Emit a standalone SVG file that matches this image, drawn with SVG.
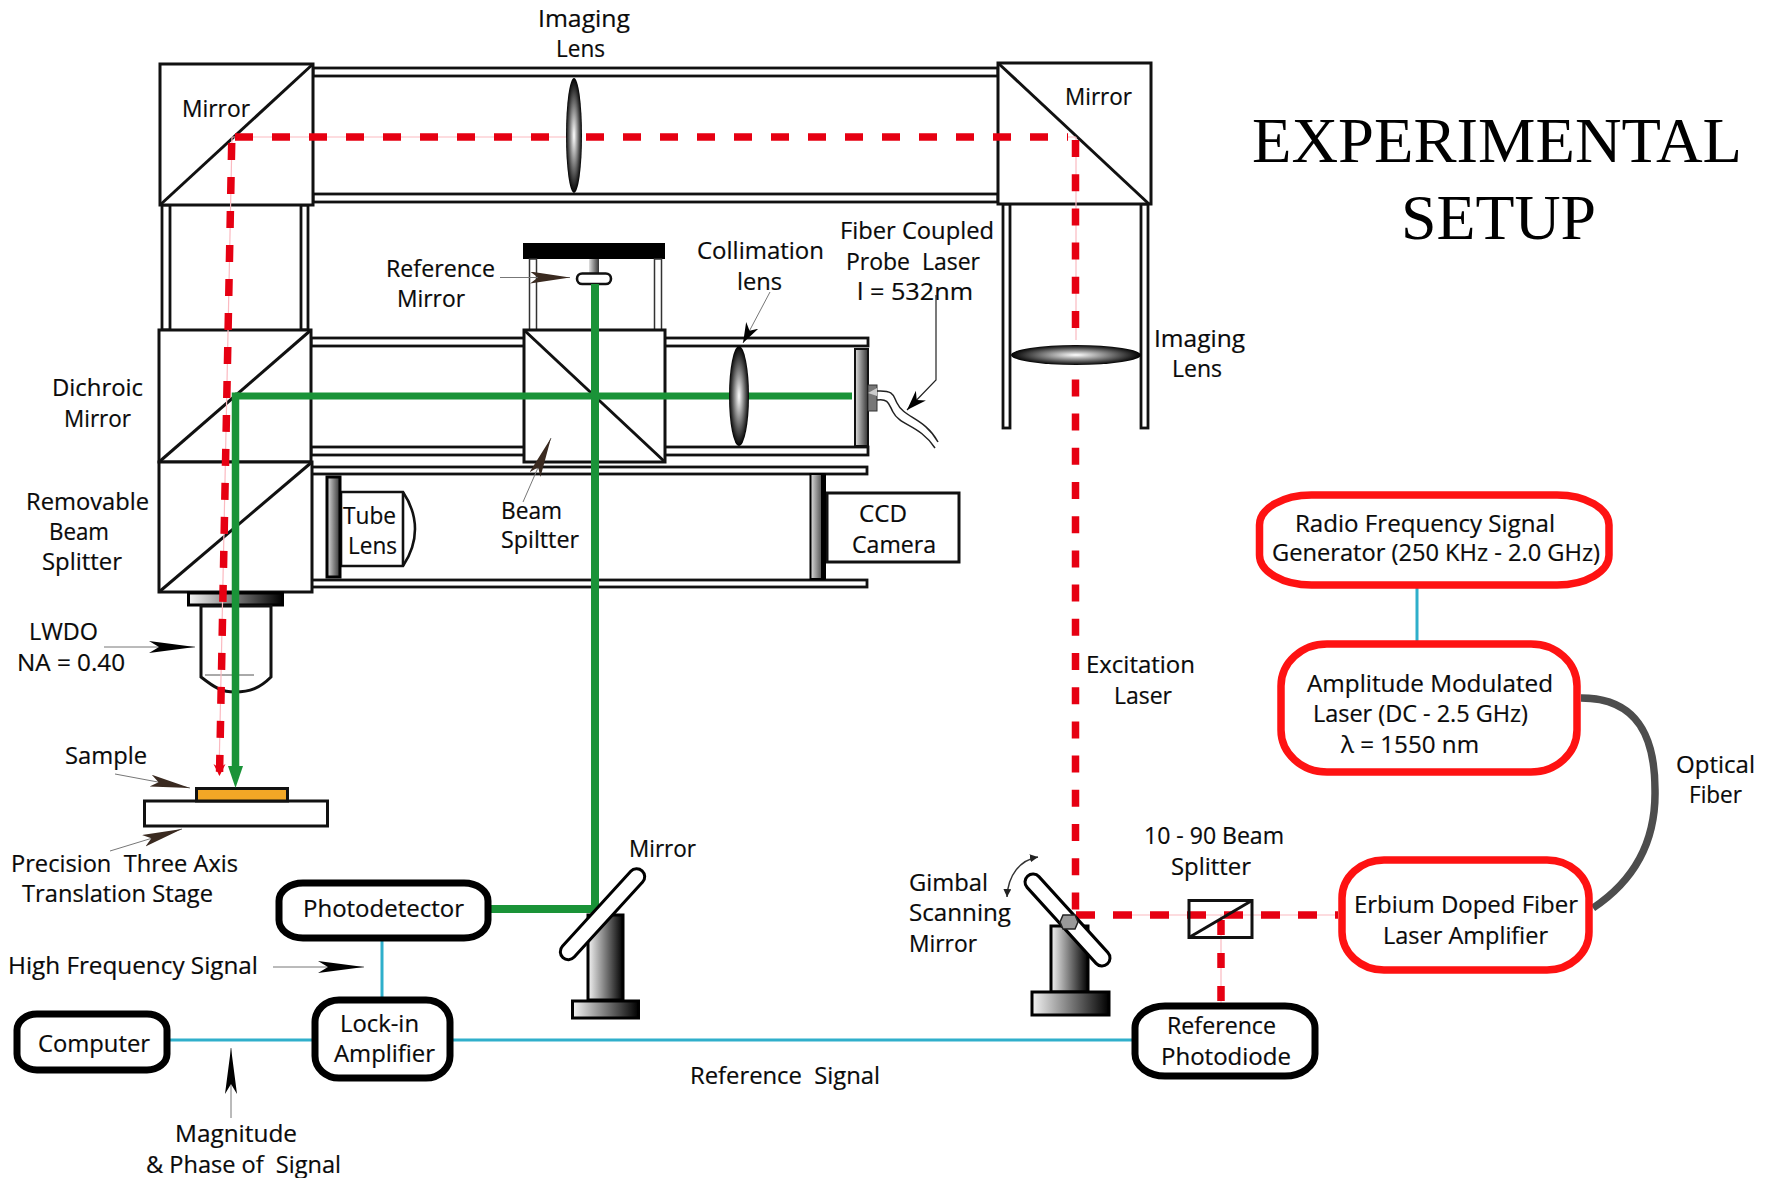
<svg xmlns="http://www.w3.org/2000/svg" width="1774" height="1178" viewBox="0 0 1774 1178">
<style>
text{font-family:"Open Sans","Noto Sans","Liberation Sans",sans-serif;font-size:23.500px;fill:#0a0a0a;white-space:pre;stroke:#0a0a0a;stroke-width:.2}
.title{font-family:"Liberation Serif",serif;font-size:64px;fill:#000;stroke:none}
.box{fill:#fff;stroke:#111;stroke-width:3}
.diag{fill:none;stroke:#111;stroke-width:3}
.rail{fill:#fff;stroke:#111;stroke-width:2.800}
.bk{fill:#fff;stroke:#000;stroke-width:7}
.rd{fill:#fff;stroke:#fe1212;stroke-width:7.500}
.red{fill:none;stroke:#e60012;stroke-width:7.500}
.pink{fill:none;stroke:#fbb9c0;stroke-width:1.200}
.green{fill:none;stroke:#1a9338}
.cyan{fill:none;stroke:#2fafcb;stroke-width:3}
.lead{fill:none;stroke:#777;stroke-width:1}
.pillo{fill:none;stroke:#000;stroke-width:19;stroke-linecap:round}
.pilli{fill:none;stroke:#fff;stroke-width:13;stroke-linecap:round}
.grad{fill:url(#hg);stroke:#000;stroke-width:3}
</style>
<defs>
<linearGradient id="hg"><stop offset="0" stop-color="#f4f4f4"/><stop offset="1" stop-color="#000"/></linearGradient>
<linearGradient id="pg"><stop offset="0" stop-color="#e0e0e0"/><stop offset=".5" stop-color="#888"/><stop offset="1" stop-color="#333"/></linearGradient>
<radialGradient id="lg"><stop offset="0" stop-color="#fff"/><stop offset="1" stop-color="#000"/></radialGradient>
<marker id="brown" markerUnits="userSpaceOnUse" markerWidth="44" markerHeight="14" refX="40" refY="6" orient="auto"><path d="M0 0L40 6L0 12L8 6Z" fill="#3a2a20"/></marker>
<marker id="black" markerUnits="userSpaceOnUse" markerWidth="50" markerHeight="14" refX="46" refY="6" orient="auto"><path d="M0 0L46 6L0 12L10 6Z" fill="#000"/></marker>
<marker id="small" markerUnits="userSpaceOnUse" markerWidth="22" markerHeight="16" refX="20" refY="7" orient="auto"><path d="M0 0L20 7L0 14L6 7Z" fill="#000"/></marker>
<marker id="tiny" markerUnits="userSpaceOnUse" markerWidth="9" markerHeight="8" refX="8" refY="4" orient="auto-start-reverse"><path d="M0 0L8 4L0 8Z" fill="#222"/></marker>
<marker id="redh" markerUnits="userSpaceOnUse" markerWidth="16" markerHeight="15" refX="7" refY="12" orient="0"><path d="M1 1L7 5L13 1L7 13Z" fill="#e60012"/></marker>
</defs>

<g id="rails">
<rect class="rail" x="313" y="68" width="685" height="8"/>
<rect class="rail" x="313" y="194" width="685" height="8"/>
<rect class="rail" x="311" y="338" width="557" height="8"/>
<rect class="rail" x="311" y="447" width="557" height="8"/>
<rect class="rail" x="311" y="467" width="556" height="7"/>
<rect class="rail" x="311" y="580" width="556" height="7"/>
<rect class="rail" x="162" y="205" width="8" height="125"/>
<rect class="rail" x="301" y="205" width="7" height="125"/>
<rect class="rail" x="1003" y="204" width="7" height="224"/>
<rect class="rail" x="1141" y="204" width="7" height="224"/>
</g>

<g id="mirror-top-left"><rect class="box" x="160" y="64" width="153" height="141"/><path class="diag" d="M160 205L313 64"/><text x="182" y="117" textLength="68" lengthAdjust="spacingAndGlyphs">Mirror</text></g>
<g id="mirror-top-right"><rect class="box" x="998" y="63" width="153" height="141"/><path class="diag" d="M998 63L1149 204"/><text x="1065" y="105" textLength="67" lengthAdjust="spacingAndGlyphs">Mirror</text></g>
<g id="dichroic"><rect class="box" x="159" y="330" width="152" height="132"/><path class="diag" d="M159 462L311 330"/><text x="52" y="396" textLength="91" lengthAdjust="spacingAndGlyphs">Dichroic</text><text x="64" y="427" textLength="67" lengthAdjust="spacingAndGlyphs">Mirror</text></g>
<g id="removable-splitter"><rect class="box" x="159" y="462" width="153" height="130"/><path class="diag" d="M159 592L312 462"/><text x="26" y="510" textLength="123" lengthAdjust="spacingAndGlyphs">Removable</text><text x="49" y="540" textLength="60" lengthAdjust="spacingAndGlyphs">Beam</text><text x="42" y="570" textLength="80" lengthAdjust="spacingAndGlyphs">Splitter</text></g>
<g id="reference-mirror">
<rect x="523" y="243" width="142" height="16" fill="#000"/>
<rect x="529.500" y="259" width="7" height="71" fill="#fff" stroke="#333" stroke-width="1.500"/>
<rect x="654.500" y="259" width="7" height="71" fill="#fff" stroke="#333" stroke-width="1.500"/>
<rect x="589" y="259" width="10" height="14" fill="url(#pg)"/>
<rect x="577" y="273.500" width="34" height="10.500" rx="5.200" fill="#fff" stroke="#111" stroke-width="2.600"/>
<text x="386" y="277" textLength="109" lengthAdjust="spacingAndGlyphs">Reference</text><text x="397" y="307" textLength="68" lengthAdjust="spacingAndGlyphs">Mirror</text>
</g>
<g id="beam-splitter"><rect class="box" x="524" y="330" width="141" height="132"/><path class="diag" d="M524 330L665 462"/><text x="501" y="519" textLength="61" lengthAdjust="spacingAndGlyphs">Beam</text><text x="501" y="548" textLength="78" lengthAdjust="spacingAndGlyphs">Spiltter</text></g>
<g id="tube-lens"><path d="M341 492H403Q415 510 415 529Q415 548 403 566H341Z" fill="#fff" stroke="#111" stroke-width="2.600"/><path d="M403 492V566" stroke="#111" stroke-width="2.600"/><rect x="327" y="477" width="13" height="100" fill="url(#pg)" stroke="#000" stroke-width="3"/><text x="343" y="524" textLength="53" lengthAdjust="spacingAndGlyphs">Tube</text><text x="348" y="554" textLength="49" lengthAdjust="spacingAndGlyphs">Lens</text></g>
<g id="ccd-camera"><rect x="810.500" y="474" width="14" height="105" fill="url(#pg)" stroke="#000" stroke-width="2"/><rect x="827" y="493" width="132" height="69" class="box"/><rect x="821" y="474" width="5" height="105" fill="#000"/><text x="859" y="522" textLength="48" lengthAdjust="spacingAndGlyphs">CCD</text><text x="852" y="553" textLength="84" lengthAdjust="spacingAndGlyphs">Camera</text></g>
<g id="probe-laser">
<rect x="855" y="349" width="13" height="97" fill="url(#pg)" stroke="#111" stroke-width="2"/>
<rect x="868" y="385" width="9" height="26" fill="#777" stroke="#333" stroke-width="1"/>
<path d="M868 393L877 388V396Z" fill="#ccc"/>
<path d="M877 391C895 390 893 396 897 403C904 418 925 418 938 442" fill="none" stroke="#222" stroke-width="1.500"/>
<path d="M877 400C889 398 889 405 893 412C900 426 920 425 935 448" fill="none" stroke="#222" stroke-width="1.500"/>
<text x="840" y="239" textLength="154" lengthAdjust="spacingAndGlyphs">Fiber Coupled</text><text x="846" y="270" textLength="134" lengthAdjust="spacingAndGlyphs">Probe  Laser</text><text x="857" y="300" textLength="116" lengthAdjust="spacingAndGlyphs">l = 532nm</text>
</g>
<g id="objective">
<rect x="188.500" y="593" width="94" height="12" class="grad"/>
<path d="M201 606V677C215 688 222 692 235 692C250 692 260 688 271 677V606Z" fill="#fff" stroke="#111" stroke-width="3"/>
<path d="M205 675H254" stroke="#555" stroke-width="1"/>
<text x="29" y="640" textLength="69" lengthAdjust="spacingAndGlyphs">LWDO</text><text x="17" y="671" textLength="108" lengthAdjust="spacingAndGlyphs">NA = 0.40</text>
</g>
<g id="stage"><rect x="144.500" y="801" width="183" height="25" fill="#fff" stroke="#111" stroke-width="3"/><rect x="196.500" y="788.500" width="91" height="12.500" fill="#f2a726" stroke="#111" stroke-width="3"/><text x="65" y="764" textLength="82" lengthAdjust="spacingAndGlyphs">Sample</text><text x="11" y="872" textLength="227" lengthAdjust="spacingAndGlyphs">Precision  Three Axis</text><text x="22" y="902" textLength="191" lengthAdjust="spacingAndGlyphs">Translation Stage</text></g>

<g id="connectors">
<path class="pink" d="M232 137H574M1068 137H1076M1076 137V340M232 137L219 775M1130 915H1338M1221 915V1005"/>
<path class="red" stroke-dasharray="18 19" d="M235 137H566"/>
<path class="red" stroke-dasharray="18 19" d="M586 137H1068"/>
<path class="red" stroke-dasharray="17 17.200" d="M1075.500 140V915"/>
<path class="red" stroke-dasharray="19 18" d="M1076 915H1338"/>
<path class="red" stroke-dasharray="15 18" d="M1221 920V1005"/>
<path class="red" stroke-dasharray="17 17" marker-end="url(#redh)" d="M231.700 143L219.500 775"/>
<path class="green" stroke-width="7" d="M235 396H852"/>
<path class="green" stroke-width="7.500" d="M235.500 392.500V770"/>
<path d="M228 766H243L235.500 788Z" fill="#1a9338"/>
<path class="green" stroke-width="8" d="M595 284V910"/>
<path class="green" stroke-width="8" d="M491 909H595"/>
<path class="cyan" d="M382 940V998"/>
<path class="cyan" d="M167 1040H315M450 1040H1134"/>
<path class="cyan" d="M1417 586V644"/>
<path d="M1581 698C1640 698 1655 740 1655 790C1656 840 1635 880 1593 908" fill="none" stroke="#4d4d4d" stroke-width="7.500"/>
<path class="lead" marker-end="url(#brown)" d="M500 277.500H570"/>
<path class="lead" marker-end="url(#small)" d="M770 292L743 343"/>
<path fill="none" stroke="#222" stroke-width="1.200" marker-end="url(#small)" d="M936 295V380L907 410"/>
<path class="lead" marker-end="url(#brown)" d="M523 502L551 438"/>
<path class="lead" marker-end="url(#black)" d="M104 647H195"/>
<path class="lead" marker-end="url(#brown)" d="M115 774L190 788"/>
<path class="lead" marker-end="url(#brown)" d="M110 851L182 829"/>
<path class="lead" marker-end="url(#black)" d="M273 967H364"/>
<path class="lead" marker-end="url(#black)" d="M231 1118V1048"/>
<path fill="none" stroke="#333" stroke-width="1.500" marker-start="url(#tiny)" marker-end="url(#tiny)" d="M1038 857C1020 860 1008 875 1007 897"/>
</g>

<g id="imaging-lens-top"><ellipse cx="574" cy="135.500" rx="8" ry="57.500" fill="url(#lg)"/><text x="538" y="27" textLength="92" lengthAdjust="spacingAndGlyphs">Imaging</text><text x="556" y="57" textLength="49" lengthAdjust="spacingAndGlyphs">Lens</text></g>
<g id="imaging-lens-right"><ellipse cx="1076" cy="355" rx="65" ry="10" fill="url(#lg)"/><text x="1154" y="347" textLength="91" lengthAdjust="spacingAndGlyphs">Imaging</text><text x="1172" y="377" textLength="50" lengthAdjust="spacingAndGlyphs">Lens</text></g>
<g id="collimation-lens"><ellipse cx="739" cy="396" rx="10" ry="50" fill="url(#lg)"/><text x="697" y="259" textLength="127" lengthAdjust="spacingAndGlyphs">Collimation</text><text x="737" y="290" textLength="45" lengthAdjust="spacingAndGlyphs">lens</text></g>

<g id="mirror-lower">
<rect x="588" y="915" width="35" height="85" class="grad"/><rect x="572.500" y="1001" width="66" height="17" class="grad"/>
<path class="pillo" d="M636.700 876.700L568.300 951.700"/><path class="pilli" d="M636.700 876.700L568.300 951.700"/>
<text x="629" y="857" textLength="67" lengthAdjust="spacingAndGlyphs">Mirror</text>
</g>
<g id="gimbal-mirror">
<rect x="1051" y="926" width="37" height="66" class="grad"/><rect x="1032" y="992" width="77" height="23" class="grad"/>
<path class="pillo" d="M1033 882L1102 958"/><path class="pilli" d="M1033 882L1102 958"/>
<path d="M1063 915H1075L1078 922L1075 929H1063L1060 922Z" fill="#999" stroke="#222" stroke-width="1.500"/>
<text x="909" y="891" textLength="79" lengthAdjust="spacingAndGlyphs">Gimbal</text><text x="909" y="921" textLength="102" lengthAdjust="spacingAndGlyphs">Scanning</text><text x="909" y="952" textLength="68" lengthAdjust="spacingAndGlyphs">Mirror</text>
</g>
<g id="splitter-10-90"><rect x="1189" y="900.500" width="63" height="37" fill="none" stroke="#111" stroke-width="3"/><path class="diag" d="M1189 937.500L1252 900.500"/><text x="1144" y="844" textLength="140" lengthAdjust="spacingAndGlyphs">10 - 90 Beam</text><text x="1171" y="875" textLength="80" lengthAdjust="spacingAndGlyphs">Splitter</text></g>

<g id="photodetector"><rect class="bk" x="279" y="883" width="209" height="55" rx="24" ry="18"/><text x="303" y="917" textLength="161" lengthAdjust="spacingAndGlyphs">Photodetector</text></g>
<g id="computer"><rect class="bk" x="17" y="1014" width="150" height="56" rx="20" ry="16"/><text x="38" y="1052" textLength="112" lengthAdjust="spacingAndGlyphs">Computer</text></g>
<g id="lock-in"><rect class="bk" x="315" y="1000" width="135" height="78" rx="24" ry="22"/><text x="340" y="1032" textLength="79" lengthAdjust="spacingAndGlyphs">Lock-in</text><text x="334" y="1062" textLength="101" lengthAdjust="spacingAndGlyphs">Amplifier</text></g>
<g id="reference-photodiode"><rect class="bk" x="1135" y="1006" width="180" height="70" rx="30" ry="22"/><text x="1167" y="1034" textLength="109" lengthAdjust="spacingAndGlyphs">Reference</text><text x="1161" y="1065" textLength="130" lengthAdjust="spacingAndGlyphs">Photodiode</text></g>
<g id="rf-generator"><rect class="rd" x="1259.500" y="495" width="349.500" height="90" rx="52" ry="30"/><text x="1295" y="532" textLength="260" lengthAdjust="spacingAndGlyphs">Radio Frequency Signal</text><text x="1272" y="561" textLength="328" lengthAdjust="spacingAndGlyphs">Generator (250 KHz - 2.0 GHz)</text></g>
<g id="am-laser"><rect class="rd" x="1281" y="644" width="296" height="128" rx="46" ry="42"/><text x="1307" y="692" textLength="246" lengthAdjust="spacingAndGlyphs">Amplitude Modulated</text><text x="1313" y="722" textLength="215" lengthAdjust="spacingAndGlyphs">Laser (DC - 2.5 GHz)</text><text x="1341" y="753" textLength="138" lengthAdjust="spacingAndGlyphs">λ = 1550 nm</text></g>
<g id="erbium-amplifier"><rect class="rd" x="1342" y="860" width="247" height="110" rx="42" ry="38"/><text x="1354" y="913" textLength="224" lengthAdjust="spacingAndGlyphs">Erbium Doped Fiber</text><text x="1383" y="944" textLength="165" lengthAdjust="spacingAndGlyphs">Laser Amplifier</text></g>

<g id="labels">
<text x="8" y="974" textLength="250" lengthAdjust="spacingAndGlyphs">High Frequency Signal</text>
<text x="175" y="1142" textLength="122" lengthAdjust="spacingAndGlyphs">Magnitude</text>
<text x="146" y="1173" textLength="195" lengthAdjust="spacingAndGlyphs">&amp; Phase of  Signal</text>
<text x="690" y="1084" textLength="190" lengthAdjust="spacingAndGlyphs">Reference  Signal</text>
<text x="1086" y="673" textLength="109" lengthAdjust="spacingAndGlyphs">Excitation</text>
<text x="1114" y="704" textLength="58" lengthAdjust="spacingAndGlyphs">Laser</text>
<text x="1676" y="773" textLength="79" lengthAdjust="spacingAndGlyphs">Optical</text>
<text x="1689" y="803" textLength="53" lengthAdjust="spacingAndGlyphs">Fiber</text>
<text class="title" x="1252" y="162" textLength="490" lengthAdjust="spacingAndGlyphs">EXPERIMENTAL</text>
<text class="title" x="1401" y="239" textLength="195" lengthAdjust="spacingAndGlyphs">SETUP</text>
</g>
</svg>
